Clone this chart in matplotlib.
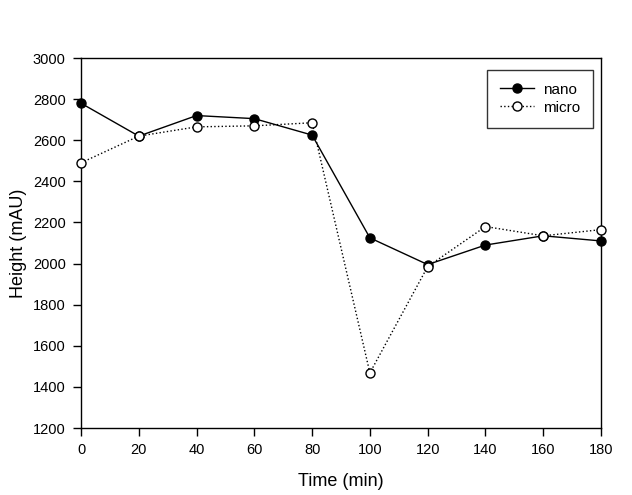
import matplotlib
matplotlib.use('Agg')
import matplotlib.pyplot as plt

plt.rcParams['font.family'] = ['Liberation Sans', 'DejaVu Sans']

# data
time = [0, 20, 40, 60, 80, 100, 120, 140, 160, 180]
nano = [2780, 2620, 2720, 2705, 2625, 2125, 1995, 2090, 2135, 2110]
micro = [2490, 2620, 2665, 2670, 2685, 1468, 1985, 2180, 2135, 2165]

fig = plt.figure(figsize=(6.32, 4.95), dpi=100)
ax = fig.add_axes([81/632, 1 - 428/495, 520/632, 370/495])

ax.plot(time, nano, '-', color='black', lw=1, marker='o', ms=6.5,
        mfc='black', mec='black', label='nano', clip_on=False, zorder=3)
ax.plot(time, micro, ':', color='black', lw=1, marker='o', ms=6.5,
        mfc='white', mec='black', label='micro', clip_on=False, zorder=3)

ax.set_xlim(0, 180)
ax.set_ylim(1200, 3000)
ax.set_xticks(range(0, 181, 20))
ax.set_yticks(range(1200, 3001, 200))
ax.tick_params(direction='out', length=6, width=1, labelsize=10.5, pad=5)
for s in ax.spines.values():
    s.set_linewidth(1)

ax.set_xlabel('Time (min)', fontsize=13, labelpad=11)
ax.set_ylabel('Height (mAU)', fontsize=13, labelpad=4)

leg = ax.legend(loc='upper right', bbox_to_anchor=(0.985, 0.968), fontsize=11,
                frameon=True, fancybox=False, edgecolor='black',
                handlelength=2.2, handletextpad=0.6, borderpad=0.85,
                labelspacing=0.25, borderaxespad=0)
leg.get_frame().set_linewidth(1)

fig.savefig('out.png', dpi=100)
